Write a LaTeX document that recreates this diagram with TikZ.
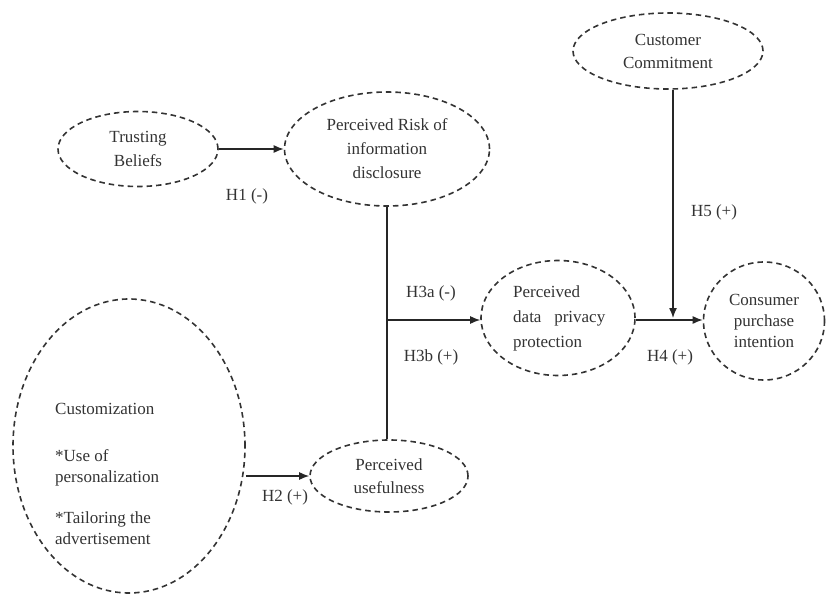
\documentclass[tikz,border=0pt]{standalone}
\usepackage{fontspec}
\setmainfont{Liberation Serif}
\usetikzlibrary{shapes.geometric,arrows.meta}

\begin{document}
\begin{tikzpicture}
[x=1pt, y=-1pt, every node/.style={inner sep=0pt},
 construct/.style={ellipse, draw=black!80, line width=1.6pt, dash pattern=on 5.5pt off 4pt, align=center, font=\fontsize{17}{24}\selectfont, text=black!80},
 path/.style={line width=1.3pt, draw=black!85},
 arr/.style={path, -{Latex[length=10pt,width=8pt]}},
 hyp/.style={font=\fontsize{17}{20}\selectfont, text=black!80}]
\useasboundingbox (0,0) rectangle (827,596);
\node (trust) [construct, minimum width=160pt, minimum height=75pt] at (138, 149) {Trusting\\Beliefs};
\node (risk) [construct, minimum width=205pt, minimum height=114pt] at (387, 149) {Perceived Risk of\\information\\disclosure};
\node (commit) [construct, minimum width=190pt, minimum height=76pt, font=\fontsize{17}{23}\selectfont] at (668, 51) {Customer\\Commitment};
\node (privacy) [construct, minimum width=154pt, minimum height=115pt] at (558, 318) {};
\node (consumer) [construct, minimum width=121pt, minimum height=118pt, font=\fontsize{17}{21}\selectfont] at (764, 321) {Consumer\\purchase\\intention};
\node (useful) [construct, minimum width=158pt, minimum height=72pt, font=\fontsize{17}{23}\selectfont] at (389, 476) {Perceived\\usefulness};
\node (custom) [construct, minimum width=232pt, minimum height=294pt] at (129, 446) {};
% texts inside the two left-aligned constructs
\node (privtext) [anchor=west, align=left, font=\fontsize{17}{25}\selectfont, text=black!80] at (513, 318) {Perceived\\data\hspace{0.75em}privacy\\protection};
\node (custtext) [anchor=north west, align=left, font=\fontsize{17}{21}\selectfont, text=black!80] at (55, 403) {Customization\\[26pt]*Use of\\personalization\\[20pt]*Tailoring the\\advertisement};
\coordinate (j) at (387, 320);
\coordinate (k) at (673, 318);
\draw [arr] (trust.east) -- (risk.west);
\draw [path] (risk.south) -- (risk.south |- useful.north);
\draw [arr] (j) -- (privacy.west |- j);
\draw [arr] (useful.west -| custom.east) -- (useful.west);
\draw [arr] (privacy.east |- j) -- (consumer.west |- j);
\draw [arr] (commit.south -| k) -- (k);
\node (h1) [hyp] at (247, 196) {H1 (-)};
\node (h2) [hyp] at (285, 497) {H2 (+)};
\node (h3a) [hyp] at (431, 293) {H3a (-)};
\node (h3b) [hyp] at (431, 357) {H3b (+)};
\node (h4) [hyp] at (670, 357) {H4 (+)};
\node (h5) [hyp] at (714, 212) {H5 (+)};
\end{tikzpicture}
\end{document}
